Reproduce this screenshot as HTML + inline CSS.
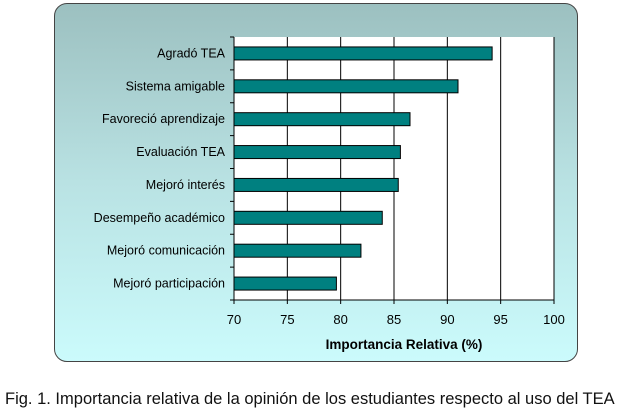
<!DOCTYPE html>
<html><head><meta charset="utf-8"><style>
body{margin:0;width:631px;height:413px;background:#fff;overflow:hidden;font-family:"Liberation Sans",Arial,sans-serif;}
#box{position:absolute;left:54px;top:3px;width:522px;height:357px;border:1.5px solid #444;border-radius:13px;background:linear-gradient(#9cc0c0,#b9e2e3 50%,#cbfbfc);}
#cap{position:absolute;left:5px;top:390px;font-size:16.5px;color:#111;white-space:nowrap;}
svg{position:absolute;left:0;top:0}
</style></head><body>
<div id="box"></div>
<svg id="chart" width="631" height="413"></svg>
<div id="cap">Fig. 1. Importancia relativa de la opinión de los estudiantes respecto al uso del TEA</div>
<script>
const categories=["Agradó TEA","Sistema amigable","Favoreció aprendizaje","Evaluación TEA","Mejoró interés","Desempeño académico","Mejoró comunicación","Mejoró participación"];
const values=[94.2,91.0,86.5,85.6,85.4,83.9,81.9,79.6];
const ticks=[70,75,80,85,90,95,100];
const L=234,R=554,T=37,B=300,xmin=70,xmax=100;
const x=v=>L+(v-xmin)/(xmax-xmin)*(R-L);
const band=(B-T)/categories.length;
const y=i=>T+i*band;
const svg=document.getElementById('chart');
const NS='http://www.w3.org/2000/svg';
function mk(t,a){const e=document.createElementNS(NS,t);for(const k in a)e.setAttribute(k,a[k]);svg.appendChild(e);return e;}
let bg=mk('rect',{x:L,y:T,width:R-L,height:B-T,fill:'#fff'});


ticks.forEach(t=>{
 const g=mk('line',{x1:x(t),x2:x(t),y1:T,y2:B+4,stroke:'#000','stroke-width':1});
 
 
 const l=mk('text',{x:x(t),y:B+24,'text-anchor':'middle','font-size':13,fill:'#000'});
 l.textContent=t;
 
 
});
for(let i=0;i<=categories.length;i++){
 const tk=mk('line',{x1:L-4,x2:L,y1:y(i),y2:y(i),stroke:'#000','stroke-width':1});
 
 
}
const ax=mk('line',{x1:L,x2:L,y1:T,y2:B,stroke:'#000','stroke-width':1});


const bx=mk('line',{x1:L,x2:R,y1:B,y2:B,stroke:'#000','stroke-width':1});


categories.forEach((c,i)=>{
 const bh=13,cy=y(i)+band/2;
 const r=mk('rect',{x:L,y:cy-bh/2,width:x(values[i])-L,height:bh,fill:'#008080',stroke:'#000','stroke-width':1});
 
 
 const t=mk('text',{x:L-9,y:cy+4,'text-anchor':'end','font-size':12.5,fill:'#000'});
 t.textContent=c;
 
 
});
const at=mk('text',{x:(L+R)/2+10,y:349,'text-anchor':'middle','font-size':13.5,'font-weight':'bold',fill:'#000'});
at.textContent='Importancia Relativa (%)';


</script>
</body></html>
